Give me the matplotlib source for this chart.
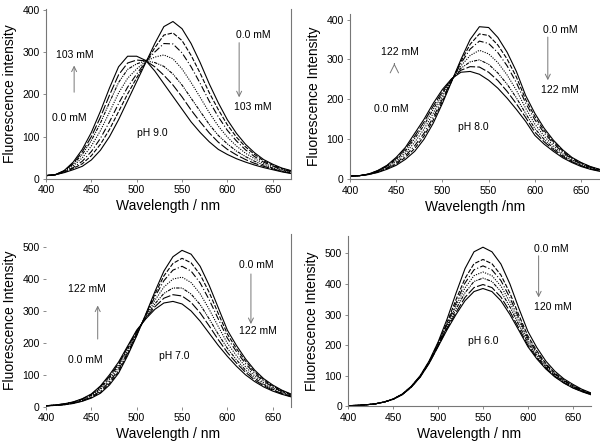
import matplotlib.pyplot as plt

plt.rcParams['font.family'] = ['Liberation Sans', 'DejaVu Sans']

wavelength = [400, 410, 420, 430, 440, 450, 460, 470, 480, 490, 500, 510, 520, 530,
              540, 550, 560, 570, 580, 590, 600, 610, 620, 630, 640, 650, 660, 670]

# pH 9.0, 0.0 mM -> 103 mM
ph9_curves = [
    [8, 10, 15, 22, 30, 45, 68, 100, 140, 185, 230, 275, 320, 360, 372, 355, 320, 275, 225, 180, 140, 108, 82, 62, 46, 35, 26, 20],
    [8, 10, 16, 25, 36, 55, 82, 117, 159, 201, 239, 276, 310, 340, 345, 327, 292, 250, 204, 164, 128, 99, 76, 58, 43, 33, 25, 19],
    [8, 10, 17, 27, 42, 65, 96, 135, 178, 217, 248, 277, 300, 320, 319, 298, 265, 226, 184, 147, 115, 90, 69, 53, 40, 31, 23, 18],
    [8, 10, 18, 31, 50, 78, 114, 158, 203, 238, 260, 278, 288, 293, 284, 260, 228, 193, 157, 125, 99, 78, 61, 48, 37, 29, 22, 17],
    [8, 10, 19, 35, 58, 91, 132, 181, 228, 259, 272, 279, 275, 266, 248, 222, 191, 160, 129, 103, 83, 66, 53, 42, 33, 26, 20, 15],
    [8, 10, 19, 37, 64, 100, 146, 198, 246, 274, 281, 279, 265, 245, 222, 194, 163, 135, 109, 87, 70, 57, 46, 37, 30, 24, 18, 14],
    [8, 10, 20, 40, 70, 110, 160, 215, 265, 290, 290, 280, 255, 225, 195, 165, 135, 110, 88, 70, 58, 48, 40, 33, 27, 22, 17, 13],
]

# pH 8.0, 0.0 mM -> 122 mM
ph8_curves = [
    [8, 9, 12, 17, 25, 35, 50, 70, 100, 140, 190, 245, 300, 350, 382, 380, 355, 318, 270, 210, 165, 128, 98, 74, 55, 42, 32, 25],
    [8, 9, 12, 18, 27, 38, 55, 77, 108, 148, 195, 246, 295, 338, 364, 360, 336, 301, 256, 200, 157, 122, 94, 71, 53, 41, 31, 24],
    [8, 9, 12, 19, 28, 41, 59, 84, 115, 155, 201, 247, 290, 326, 346, 340, 317, 284, 242, 191, 149, 116, 90, 68, 51, 39, 30, 24],
    [8, 9, 13, 20, 30, 45, 65, 93, 125, 165, 208, 249, 284, 310, 323, 314, 292, 261, 223, 178, 138, 108, 84, 64, 49, 37, 29, 23],
    [8, 9, 13, 21, 32, 49, 71, 102, 135, 175, 215, 250, 278, 294, 299, 288, 266, 238, 204, 165, 127, 100, 78, 60, 46, 35, 27, 22],
    [8, 9, 13, 21, 34, 52, 76, 108, 143, 183, 220, 251, 273, 282, 281, 268, 247, 220, 189, 155, 118, 94, 74, 57, 44, 34, 26, 21],
    [8, 9, 13, 22, 35, 55, 80, 115, 150, 190, 225, 252, 268, 270, 263, 248, 228, 203, 175, 145, 110, 88, 70, 54, 42, 32, 25, 20],
]

# pH 7.0, 0.0 mM -> 122 mM
ph7_curves = [
    [3, 4, 6, 10, 17, 27, 42, 68, 105, 160, 222, 290, 360, 425, 470, 490, 478, 440, 380, 310, 240, 192, 150, 115, 88, 68, 52, 40],
    [3, 4, 6, 11, 18, 29, 45, 73, 110, 165, 225, 288, 352, 410, 449, 465, 451, 414, 358, 292, 228, 182, 143, 110, 84, 65, 50, 39],
    [3, 4, 7, 12, 19, 31, 49, 78, 116, 169, 227, 286, 344, 395, 428, 440, 425, 388, 335, 275, 215, 173, 135, 104, 80, 62, 48, 37],
    [3, 5, 8, 13, 21, 34, 54, 84, 123, 175, 231, 283, 333, 375, 400, 406, 389, 354, 305, 251, 199, 160, 125, 97, 75, 59, 46, 36],
    [3, 5, 8, 14, 23, 36, 58, 90, 130, 181, 235, 280, 322, 355, 372, 372, 353, 320, 275, 227, 183, 147, 115, 90, 70, 55, 43, 34],
    [3, 5, 9, 14, 24, 38, 62, 95, 135, 186, 237, 277, 313, 340, 351, 347, 327, 294, 253, 210, 170, 137, 108, 84, 66, 52, 41, 32],
    [3, 5, 9, 15, 25, 40, 65, 100, 140, 190, 240, 275, 305, 325, 330, 322, 300, 268, 230, 192, 158, 127, 100, 79, 62, 49, 39, 31],
]

# pH 6.0, 0.0 mM -> 120 mM
ph6_curves = [
    [2, 3, 5, 8, 14, 24, 40, 65, 100, 148, 210, 285, 370, 450, 505, 520, 505, 465, 400, 320, 245, 192, 148, 115, 90, 72, 56, 44],
    [2, 3, 5, 8, 14, 24, 39, 64, 98, 146, 206, 274, 349, 418, 466, 480, 466, 429, 370, 298, 230, 181, 140, 109, 86, 68, 54, 42],
    [2, 3, 5, 8, 14, 23, 39, 64, 98, 144, 203, 269, 338, 403, 446, 459, 446, 411, 355, 288, 222, 175, 136, 106, 84, 67, 52, 41],
    [2, 3, 5, 8, 14, 23, 39, 63, 97, 143, 201, 264, 328, 387, 427, 439, 427, 393, 340, 277, 215, 170, 132, 104, 82, 65, 51, 40],
    [2, 3, 5, 8, 14, 23, 38, 63, 96, 142, 199, 259, 318, 371, 408, 419, 408, 375, 325, 266, 208, 164, 128, 101, 80, 63, 50, 40],
    [2, 3, 5, 8, 14, 23, 38, 62, 96, 141, 196, 254, 307, 356, 388, 398, 388, 357, 310, 255, 200, 159, 125, 98, 77, 61, 49, 39],
    [2, 3, 5, 8, 14, 23, 38, 62, 95, 140, 195, 250, 300, 345, 375, 385, 375, 345, 300, 248, 195, 155, 122, 96, 76, 60, 48, 38],
]

styles = ['-', (0, (4, 1.5)), (0, (6, 2, 1, 2)), (0, (1, 1.2)), (0, (3, 1, 1, 1, 1, 1)), (0, (8, 2)), '-']
spine_col = '#777777'
arrow_col = '#777777'


def draw_panel(ax, curves, ymax, ylabel, xlabel, spines):
    for i, c in enumerate(curves):
        ax.plot(wavelength, c, color='black', linewidth=0.8, linestyle=styles[i % len(styles)])
    ax.set_xlim(400, 670)
    ax.set_ylim(0, ymax)
    ax.set_xticks([400, 450, 500, 550, 600, 650])
    ax.set_yticks(range(0, ymax, 100))
    for side in ['left', 'right', 'top', 'bottom']:
        ax.spines[side].set_visible(side in spines)
        ax.spines[side].set_color(spine_col)
        ax.spines[side].set_linewidth(0.8)
    ax.tick_params(direction='out', length=2.5, width=0.6, color=spine_col, labelsize=7.5, pad=2)
    ax.set_xlabel(xlabel, fontsize=10, labelpad=3)
    ax.set_ylabel(ylabel, fontsize=10, labelpad=4)


def arrow(ax, tail, head, size=9):
    ax.annotate('', xy=head, xytext=tail,
                arrowprops=dict(arrowstyle='->', color=arrow_col, lw=0.7,
                                shrinkA=0, shrinkB=0, mutation_scale=size))


def label(ax, x, y, s):
    ax.text(x, y, s, fontsize=7.5, ha='center', va='center')


fig = plt.figure(figsize=(6, 4.48), dpi=100)

ax1 = fig.add_axes([0.0767, 0.6004, 0.408, 0.379])
draw_panel(ax1, ph9_curves, 401, 'Fluorescence intensity', 'Wavelength / nm', ['left', 'bottom', 'right'])
label(ax1, 432, 292, '103 mM')
arrow(ax1, (431, 205), (431, 268))
label(ax1, 426, 143, '0.0 mM')
label(ax1, 517, 108, 'pH 9.0')
label(ax1, 629, 339, '0.0 mM')
arrow(ax1, (613, 322), (613, 193))
label(ax1, 628, 169, '103 mM')

ax2 = fig.add_axes([0.5833, 0.5998, 0.416, 0.370])
draw_panel(ax2, ph8_curves, 415, 'Fluorescence Intensity', 'Wavelength /nm', ['left', 'bottom'])
label(ax2, 454, 318, '122 mM')
arrow(ax2, (448, 289), (448, 290), size=15)
label(ax2, 445, 175, '0.0 mM')
label(ax2, 533, 131, 'pH 8.0')
label(ax2, 627, 375, '0.0 mM')
arrow(ax2, (614, 356), (614, 248))
label(ax2, 627, 223, '122 mM')

ax3 = fig.add_axes([0.0767, 0.0922, 0.408, 0.3846])
draw_panel(ax3, ph7_curves, 540, 'Fluorescence Intensity', 'Wavelength / nm', ['right'])
label(ax3, 445, 369, '122 mM')
arrow(ax3, (457, 212), (457, 317))
label(ax3, 443, 147, '0.0 mM')
label(ax3, 541, 160, 'pH 7.0')
label(ax3, 632, 445, '0.0 mM')
arrow(ax3, (626, 416), (626, 259))
label(ax3, 634, 236, '122 mM')

ax4 = fig.add_axes([0.5805, 0.0931, 0.404, 0.379])
draw_panel(ax4, ph6_curves, 555, 'Fluorescence Intensity', 'Wavelength / nm', ['left', 'bottom'])
label(ax4, 626, 514, '0.0 mM')
arrow(ax4, (612, 492), (612, 356))
label(ax4, 628, 326, '120 mM')
label(ax4, 550, 214, 'pH 6.0')

fig.savefig('out.png', dpi=100)
